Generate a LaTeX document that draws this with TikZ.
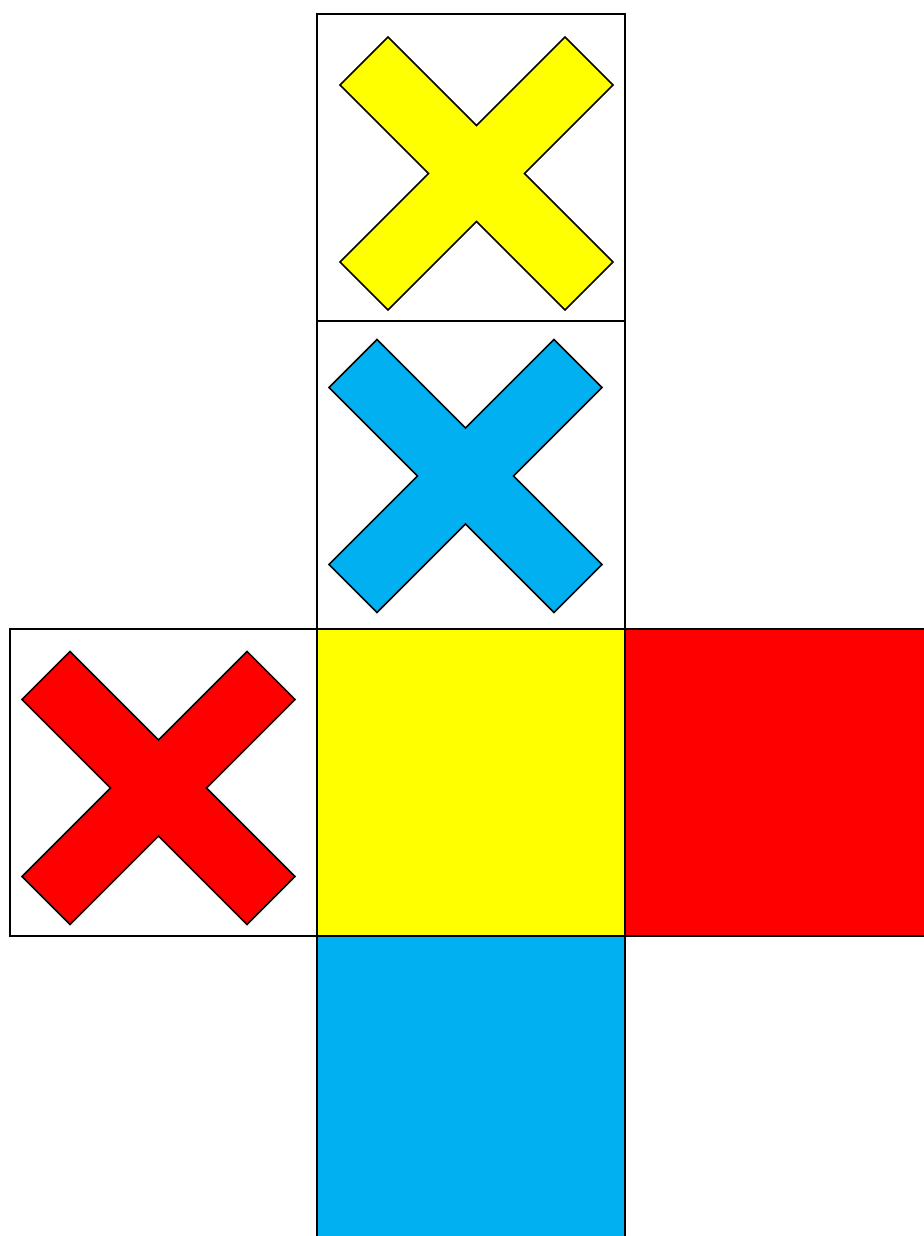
\documentclass[tikz,border=0pt]{standalone}
\definecolor{xyellow}{HTML}{FFFF00}
\definecolor{xcyan}{HTML}{00B0F0}
\definecolor{xred}{HTML}{FF0000}
\tikzset{
  face/.style={draw=black, line width=1pt},
  cross/.pic={
    \path[draw=black, line width=0.8pt, line join=miter, fill=\pgfkeysvalueof{/tikz/crossfill}]
      (-88.5,-136.5) -- (0,-48) -- (88.5,-136.5) -- (136.5,-88.5) -- (48,0) -- (136.5,88.5)
      -- (88.5,136.5) -- (0,48) -- (-88.5,136.5) -- (-136.5,88.5) -- (-48,0) -- (-136.5,-88.5) -- cycle;
  },
  crossfill/.initial=white
}
\begin{document}
\begin{tikzpicture}[x=0.5pt, y=-0.5pt]
\useasboundingbox (0,0) rectangle (923,1236);
% faces
\draw[face, fill=white] (317,14) rectangle (625,321);
\draw[face, fill=white] (317,321) rectangle (625,629);
\draw[face, fill=white] (10,629) rectangle (317,936);
\draw[face, fill=xyellow] (317,629) rectangle (625,936);
\draw[face, fill=xred] (625,629) rectangle (930,936);
\draw[face, fill=xcyan] (317,936) rectangle (625,1245);
% crosses
\pic[crossfill=xyellow] at (476.5,173.5) {cross};
\pic[crossfill=xcyan] at (465.5,476) {cross};
\pic[crossfill=xred] at (158.5,788) {cross};
\end{tikzpicture}
\end{document}
